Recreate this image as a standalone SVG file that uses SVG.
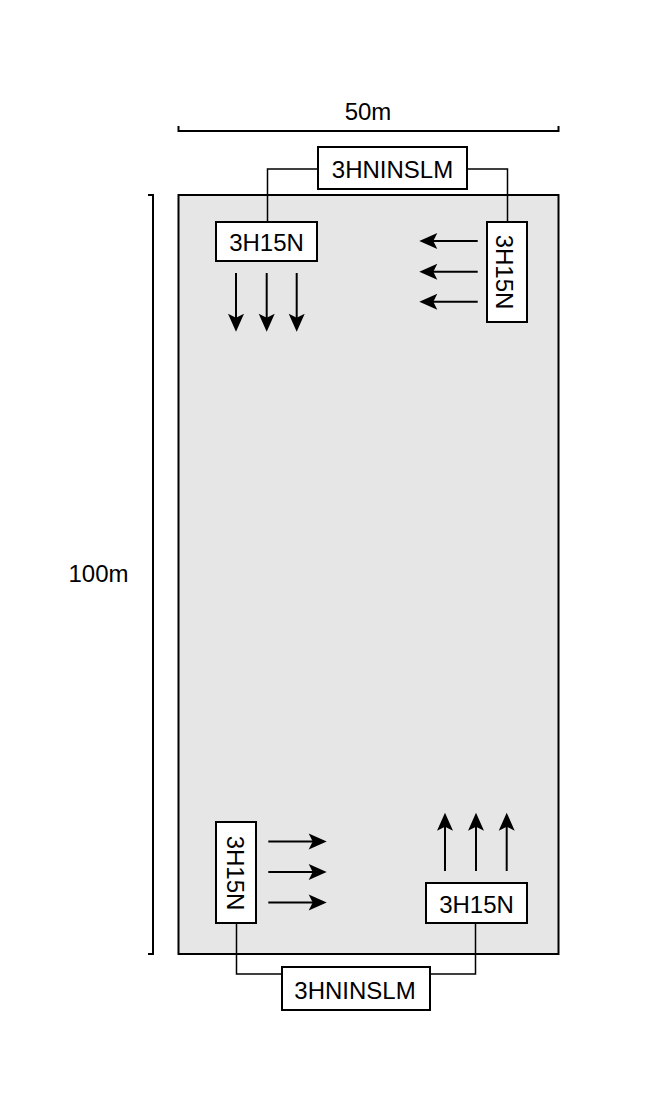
<svg xmlns="http://www.w3.org/2000/svg" width="668" height="1102" viewBox="0 0 668 1102">
<style>
.t{font-family:"Liberation Sans",Arial,sans-serif;font-size:24px;fill:#000;text-anchor:middle}
.box{fill:#fff;stroke:#000;stroke-width:2}
.con{fill:none;stroke:#000;stroke-width:1.5}
.arr{fill:none;stroke:#000;stroke-width:2;marker-end:url(#ah)}
.dim{fill:none;stroke:#000;stroke-width:2}
</style>
<defs>
<marker id="ah" markerUnits="userSpaceOnUse" markerWidth="20" markerHeight="18" refX="10" refY="8" orient="auto" viewBox="0 0 20 16" overflow="visible">
<path d="M0,0 L18,8 L0,16 L4,8 Z" fill="#000"/>
</marker>
</defs>
<rect width="668" height="1102" fill="#fff"/>
<g id="field">
<rect x="178.5" y="195" width="380" height="759" fill="#e6e6e6" stroke="#000" stroke-width="2"/>
</g>
<g id="dim-width">
<path class="dim" d="M178.5,126 V131 H558.5 V126"/>
<text class="t" x="368" y="120">50m</text>
</g>
<g id="dim-height">
<path class="dim" d="M148,195 H153 V954 H148"/>
<text class="t" x="98.5" y="582">100m</text>
</g>
<g id="connectors">
<path class="con" d="M318,169 H267.5 V222"/>
<path class="con" d="M467,169 H507.5 V222"/>
<path class="con" d="M236.5,923 V974 H282"/>
<path class="con" d="M430,974 H475.5 V923"/>
</g>
<g id="arrows">
<line class="arr" x1="236" y1="273" x2="236" y2="323.7"/>
<line class="arr" x1="266.7" y1="273" x2="266.7" y2="323.7"/>
<line class="arr" x1="296.7" y1="273" x2="296.7" y2="323.7"/>
<line class="arr" x1="477.7" y1="241" x2="427.3" y2="241"/>
<line class="arr" x1="477.7" y1="271.7" x2="427.3" y2="271.7"/>
<line class="arr" x1="477.7" y1="301.7" x2="427.3" y2="301.7"/>
<line class="arr" x1="268.3" y1="841.5" x2="318.7" y2="841.5"/>
<line class="arr" x1="268.3" y1="872" x2="318.7" y2="872"/>
<line class="arr" x1="268.3" y1="902.5" x2="318.7" y2="902.5"/>
<line class="arr" x1="445" y1="871" x2="445" y2="820.7"/>
<line class="arr" x1="476" y1="871" x2="476" y2="820.7"/>
<line class="arr" x1="506.7" y1="871" x2="506.7" y2="820.7"/>
</g>
<g id="ctrl-top">
<rect class="box" x="318" y="147" width="149" height="42"/>
<text class="t" x="392.5" y="178">3HNINSLM</text>
</g>
<g id="ctrl-bottom">
<rect class="box" x="282" y="967" width="148" height="43"/>
<text class="t" x="355" y="999">3HNINSLM</text>
</g>
<g id="unit-top-left">
<rect class="box" x="216" y="222" width="101" height="39"/>
<text class="t" x="266.5" y="251">3H15N</text>
</g>
<g id="unit-top-right">
<rect class="box" x="487" y="222" width="40" height="100"/>
<text class="t" transform="translate(507,272) rotate(90)" x="0" y="11.5">3H15N</text>
</g>
<g id="unit-bottom-left">
<rect class="box" x="216" y="822" width="40" height="101"/>
<text class="t" transform="translate(236,873) rotate(90)" x="0" y="9">3H15N</text>
</g>
<g id="unit-bottom-right">
<rect class="box" x="426" y="883" width="101" height="40"/>
<text class="t" x="476.5" y="913">3H15N</text>
</g>
</svg>
